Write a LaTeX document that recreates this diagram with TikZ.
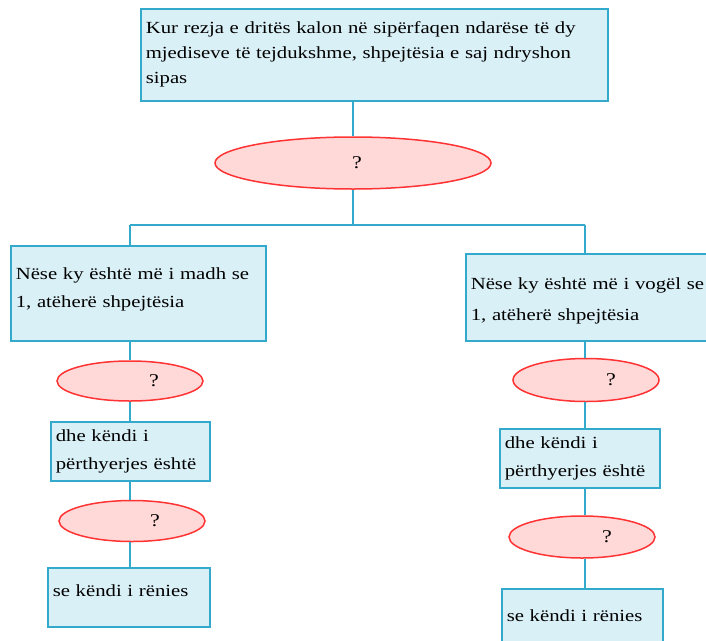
\documentclass[tikz,border=0pt]{standalone}
\usepackage{fontspec}
\setmainfont[FakeStretch=1.22]{Liberation Serif}
\usetikzlibrary{shapes.geometric}
\definecolor{boxfill}{RGB}{218,240,247}
\definecolor{boxline}{RGB}{51,170,204}
\definecolor{ovalfill}{RGB}{255,216,216}
\definecolor{ovalline}{RGB}{255,51,51}
\begin{document}
\begin{tikzpicture}[x=1pt,y=-1pt,
    box/.style={draw=boxline,fill=boxfill,line width=1.6pt,anchor=north west,align=left,inner xsep=5pt,inner ysep=0pt,
      font=\fontsize{17}{28}\selectfont},
    oval/.style={ellipse,draw=ovalline,fill=ovalfill,line width=1.5pt,inner sep=0pt,font=\fontsize{18}{18}\selectfont},
    link/.style={draw=boxline,line width=1.3pt}]
  \useasboundingbox (0,0) rectangle (706,640);
  % top question
  \node[box,minimum width=467pt,minimum height=92pt,text width=457pt,font=\fontsize{17}{25}\selectfont] (kur) at (140,8)
    {Kur rezja e dritës kalon në sipërfaqen ndarëse të dy\\mjediseve të tejdukshme, shpejtësia e saj ndryshon\\sipas};
  \node[oval,minimum width=276pt,minimum height=52pt] (q) at (353,163) {\hspace*{8pt}?};
  \draw[link] (kur.south -| q) -- (q.north);
  \coordinate (split) at (353,225);
  \coordinate (colL) at (130,0);
  \coordinate (colR) at (585,0);
  \draw[link] (q.south) -- (split);
  % left branch
  \node[box,minimum width=255pt,minimum height=95pt,text width=245pt,text depth=40pt] (madh) at (10,245)
    {Nëse ky është më i madh se\\1, atëherë shpejtësia};
  \node[oval,minimum width=146pt,minimum height=40pt] (qa) at (130,381) {\hspace*{48pt}?};
  \node[box,minimum width=159pt,minimum height=59pt,text width=149pt] (ka) at (50,421)
    {dhe këndi i\\përthyerjes është};
  \node[oval,minimum width=146pt,minimum height=41pt] (qb) at (132,521) {\hspace*{46pt}?};
  \node[box,minimum width=162pt,minimum height=59pt,text width=152pt,text depth=14pt] (ra) at (47,567)
    {se këndi i rënies};
  % right branch
  \node[box,minimum width=250pt,minimum height=87pt,text width=240pt,text depth=28pt,font=\fontsize{17}{31}\selectfont] (vogel) at (465,253)
    {Nëse ky është më i vogël se\\1, atëherë shpejtësia};
  \node[oval,minimum width=146pt,minimum height=43pt] (qc) at (586,380) {\hspace*{50pt}?};
  \node[box,minimum width=160pt,minimum height=59pt,text width=150pt] (kb) at (499,428)
    {dhe këndi i\\përthyerjes është};
  \node[oval,minimum width=146pt,minimum height=42pt] (qd) at (582,537) {\hspace*{50pt}?};
  \node[box,minimum width=161pt,minimum height=70pt,text width=151pt,text depth=16pt] (rb) at (501,588)
    {se këndi i rënies};
  % connectors
  \draw[link] (colL |- split) -- (colR |- split);
  \draw[link] (colL |- split) -- (colL |- madh.north);
  \draw[link] (colR |- split) -- (colR |- vogel.north);
  \draw[link] (colL |- madh.south) -- (colL |- qa.north);
  \draw[link] (colL |- qa.south) -- (colL |- ka.north);
  \draw[link] (colL |- ka.south) -- (colL |- qb.north);
  \draw[link] (colL |- qb.south) -- (colL |- ra.north);
  \draw[link] (colR |- vogel.south) -- (colR |- qc.north);
  \draw[link] (colR |- qc.south) -- (colR |- kb.north);
  \draw[link] (colR |- kb.south) -- (colR |- qd.north);
  \draw[link] (colR |- qd.south) -- (colR |- rb.north);
\end{tikzpicture}
\end{document}
